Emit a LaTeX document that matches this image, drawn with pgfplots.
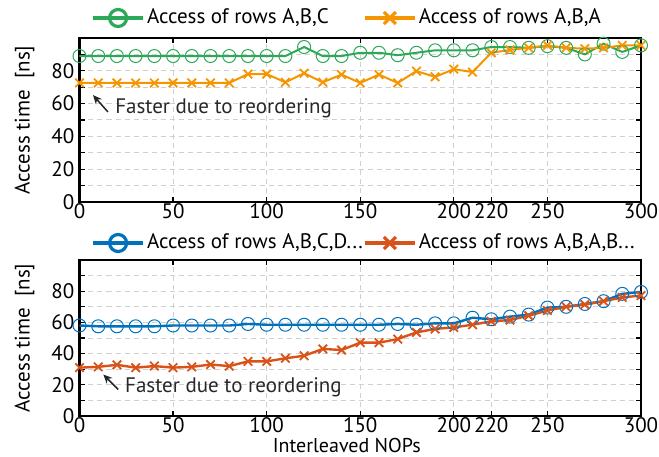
\documentclass[border=0pt]{standalone}
\usepackage{pgfplots}
\pgfplotsset{compat=1.18}
\usepackage{pgfplotstable}
\usepackage{fontspec}
\setmainfont{PT Sans}
\usetikzlibrary{arrows.meta}
\definecolor{cgreen}{RGB}{44,168,88}
\definecolor{corange}{RGB}{245,150,0}
\definecolor{cblue}{RGB}{0,114,189}
\definecolor{cred}{RGB}{217,83,25}
\definecolor{cgrid}{RGB}{208,208,208}
\definecolor{ctext}{RGB}{40,40,40}
\newcommand{\bigf}{\fontsize{21}{24}\selectfont}

\pgfplotstableread{
x abc aba
0 89 72.6
10 89 72.6
20 89 72.6
30 89 72.6
40 89 72.6
50 89 72.6
60 89 72.6
70 89 72.6
80 89 72.6
90 89 78
100 89 78
110 89 73
120 94.5 78.5
130 89 73
140 89 77.7
150 91 72.6
160 91 77.7
170 89.5 72.6
180 91 79.8
190 92.5 76.3
200 92.5 81
210 92.5 79.2
220 94.5 91
230 94.5 92.7
240 94 94
250 95 95.5
260 94 94
270 90 93.5
280 96.5 94
290 91.5 95.5
300 95.5 95.5
}\toptable

\pgfplotstableread{
x abcd abab
0 58 31
10 57.5 31.5
20 57.5 32.8
30 57.5 31
40 57.5 32
50 58 31
60 58 31.5
70 58 33
80 58 32
90 59 35
100 58.5 35
110 58.5 37
120 58.5 38.6
130 58.5 43
140 58.5 42.3
150 58.5 47
160 58.5 47
170 59 49.3
180 58.5 53.6
190 59.4 55.8
200 59.4 56.8
210 63 58.5
220 62 60.7
230 63.7 61.5
240 65 64.3
250 69.5 67.6
260 70 70
270 71.8 71.4
280 73.6 73.6
290 78.3 76
300 79.5 77.2
}\bottomtable

\pgfplotsset{
 myaxis/.style={
  scale only axis, width=561.5pt,
  xmin=0,xmax=300,ymin=0,ymax=100,
  xtick={0,50,100,150,200,250,300},
  extra x ticks={220},
  extra x tick style={grid style={solid, draw=black!25, line width=1.2pt}},
  ytick={0,20,40,60,80}, minor ytick={10,30,50,70,90},
  grid=both,
  major grid style={cgrid, line width=1pt, dash pattern=on 5pt off 4pt},
  minor grid style={cgrid, line width=1pt, dash pattern=on 5pt off 4pt},
  tick align=inside, major tick length=5pt, minor tick length=5pt,
  tick style={black, line width=1.2pt},
  axis line style={line width=2.2pt},
  font=\bigf,
  xticklabel style={font=\bigf, inner sep=1.5pt},
  yticklabel style={font=\bigf, inner sep=5pt},
  label style={font=\bigf},
  /pgf/number format/assume math mode=true,
  ylabel={Access time\ \ [ns]},
  every axis y label/.style={at={(axis description cs:-0.089,0.5)}, rotate=90, anchor=base},
  legend cell align=left,
  legend style={draw=none, fill=none, inner sep=0pt, legend columns=2, font=\bigf,
    /tikz/every even column/.append style={column sep=0pt}},
  legend image code/.code={
    \draw[##1, line width=3.8pt, mark=none] (0pt,0pt) -- (50pt,0pt);
    \draw[##1, mark options={line width=3.2pt, solid}, mark size=8.5pt] plot coordinates {(25pt,0pt)};
  },
 }
}

\begin{document}
\bigf
\begin{tikzpicture}
\useasboundingbox (0pt,0pt) rectangle (659pt,-457pt);

\begin{axis}[myaxis, height=164pt, at={(79.5pt,-38pt)}, anchor=north west,
  legend style={at={(0.0205,1)}, anchor=west, yshift=20pt}]
\addplot[cgreen, line width=2pt, mark=o, mark size=6.5pt, mark options={line width=1pt}] table[x=x,y=abc] {\toptable};
\addlegendentry{\makebox[214pt][l]{Access of rows A,B,C}}
\addplot[corange, line width=2pt, mark=x, mark size=6pt, mark options={line width=1.8pt}] table[x=x,y=aba] {\toptable};
\addlegendentry{Access of rows A,B,A}
\draw[-{Stealth[length=9pt,width=8pt]}, line width=1.5pt, black!85] (axis cs:15.2,54.9) -- (axis cs:7.2,65.2);
\node[anchor=west, text=ctext, inner sep=0pt, font=\bigf] at (axis cs:19,57.3) {Faster due to reordering};
\end{axis}

\begin{axis}[myaxis, height=156pt, at={(79.5pt,-260pt)}, anchor=north west,
  xlabel={Interleaved NOPs},
  every axis x label/.style={at={(axis description cs:0.476,0)}, anchor=base, yshift=-36pt, font=\fontsize{20}{22}\selectfont},
  legend style={at={(0.0205,1)}, anchor=west, yshift=17pt}]
\addplot[cblue, line width=2.4pt, mark=o, mark size=6.5pt, mark options={line width=1pt}] table[x=x,y=abcd] {\bottomtable};
\addlegendentry{\makebox[214pt][l]{Access of rows A,B,C,D...}}
\addplot[cred, line width=2.4pt, mark=x, mark size=6pt, mark options={line width=1.8pt}] table[x=x,y=abab] {\bottomtable};
\addlegendentry{Access of rows A,B,A,B...}
\draw[-{Stealth[length=9pt,width=8pt]}, line width=1.5pt, black!85] (axis cs:20.7,17) -- (axis cs:12.7,26.6);
\node[anchor=west, text=ctext, inner sep=0pt, font=\bigf] at (axis cs:24.3,18.7) {Faster due to reordering};
\end{axis}
\end{tikzpicture}
\end{document}
